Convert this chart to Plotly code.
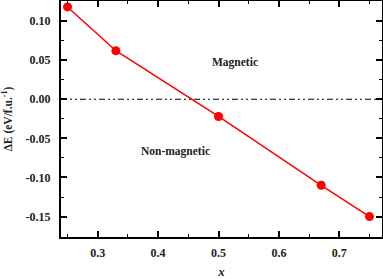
import plotly.graph_objects as go

x_vals = [0.25, 0.33, 0.50, 0.67, 0.75]
dE_vals = [0.118, 0.062, -0.022, -0.110, -0.150]
x_ticks = [0.3, 0.4, 0.5, 0.6, 0.7]
y_ticks = [0.10, 0.05, 0.00, -0.05, -0.10, -0.15]
y_tick_labels = ["0.10", "0.05", "0.00", "-0.05", "-0.10", "-0.15"]
x_range = [0.2392, 0.7707]
y_range = [-0.1761, 0.1256]

font_family = "Liberation Serif, Times New Roman, serif"

fig = go.Figure()
fig.add_hline(y=0, line=dict(color="black", width=1.2, dash="6px,3px,2px,3px,2px,3px"))
fig.add_trace(go.Scatter(
    x=x_vals, y=dE_vals, mode="lines+markers",
    line=dict(color="#ff0000", width=1.5),
    marker=dict(color="#ff0000", size=9),
    showlegend=False,
    cliponaxis=False,
))

axis_common = dict(
    showgrid=False, zeroline=False, showline=True, linecolor="black", linewidth=2,
    mirror="ticks", ticks="inside", ticklen=6, tickwidth=1.5, tickcolor="black",
    tickfont=dict(family=font_family, size=12, color="#222"),
    automargin=False,
)

fig.update_xaxes(
    range=x_range, tickvals=x_ticks, ticktext=[f"<b>{v:.1f}</b>" for v in x_ticks],
    minor=dict(ticks="inside", ticklen=3, tickwidth=1.2, dtick=0.05, tick0=0.25, tickcolor="black"),
    title=dict(text="<b><i>x</i></b>", font=dict(family=font_family, size=13, color="#222")),
    ticklabelstandoff=4,
    **axis_common,
)
fig.update_yaxes(
    range=y_range, tickvals=y_ticks, ticktext=[f"<b>{t}</b>" for t in y_tick_labels],
    minor=dict(ticks="inside", ticklen=3, tickwidth=1.2, dtick=0.025, tick0=0.025, tickcolor="black"),
    title=dict(text="<b>ΔE (eV/f.u.<sup>-1</sup>)</b>", font=dict(family=font_family, size=11.5, color="#222")),
    ticklabelstandoff=6,
    **axis_common,
)

fig.add_annotation(x=0.527, y=0.0475, text="<b>Magnetic</b>", showarrow=False,
                   font=dict(family=font_family, size=11.5, color="#222"))
fig.add_annotation(x=0.428, y=-0.0665, text="<b>Non-magnetic</b>", showarrow=False,
                   font=dict(family=font_family, size=11.5, color="#222"))

fig.update_layout(
    width=383, height=279, autosize=False,
    margin=dict(l=61, r=1, t=1, b=42, pad=0),
    plot_bgcolor="white", paper_bgcolor="white",
    font=dict(family=font_family),
)
fig.write_html("out.html", config={"displayModeBar": False},
               post_script="document.body.style.margin='0';document.body.style.padding='0';")
